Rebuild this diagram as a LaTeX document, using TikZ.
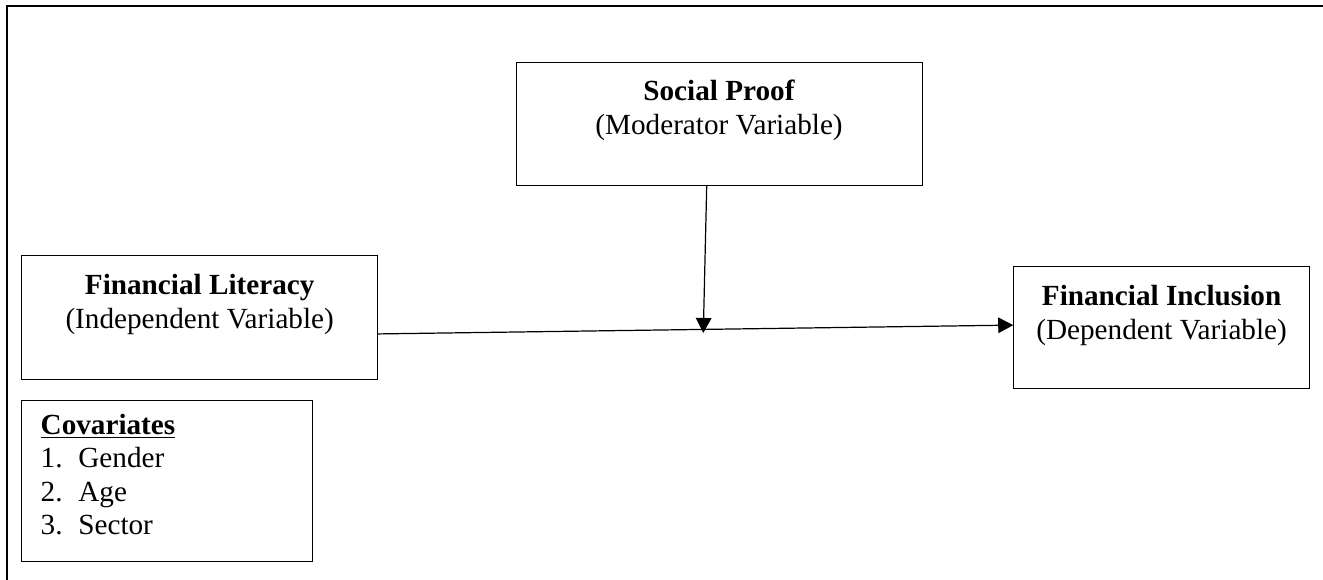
\documentclass[tikz,border=0pt]{standalone}
\usepackage{fontspec}
\setmainfont{Liberation Serif}
\usepackage{tikz}
\usetikzlibrary{arrows.meta, positioning, calc}

\begin{document}
\begin{tikzpicture}[
  x=0.411pt, y=-0.411pt,
  every node/.style={font=\fontsize{12}{13.8}\selectfont},
  varbox/.style={draw, inner sep=0pt, outer sep=0pt, anchor=north west},
  link/.style={-{Triangle[length=6.2pt, width=6.4pt]}, line width=0.5pt},
]
  \useasboundingbox (0,0) rectangle (1323,579);

  % Frame of the page (only left and top edges show)
  \draw[line width=0.75pt] (7,585) -- (7,6) -- (1330,6);

  % Variables
  \node[varbox] (proof) at (516,62)
      {\parbox[c][50.6pt][t]{166.9pt}{\centering\rule{0pt}{16pt}\textbf{Social Proof}\\(Moderator Variable)}};
  \node[varbox] (literacy) at (21.7,255.7)
      {\parbox[c][50.7pt][t]{146.3pt}{\centering\rule{0pt}{16pt}\textbf{Financial Literacy}\\(Independent Variable)}};
  \node[varbox] (inclusion) at (1013.3,266.7)
      {\parbox[c][50pt][t]{121.9pt}{\centering\rule{0pt}{16pt}\textbf{Financial Inclusion}\\(Dependent Variable)}};

  % Covariates
  \node[varbox] (covariates) at (21.7,400.7)
      {\parbox[c][66.2pt][t]{119.6pt}{\raggedright
        \rule{0pt}{13.7pt}\hspace*{7.8pt}\underline{\textbf{Covariates}}\\
        \hspace*{7.8pt}\makebox[15.5pt][l]{1.}Gender\\
        \hspace*{7.8pt}\makebox[15.5pt][l]{2.}Age\\
        \hspace*{7.8pt}\makebox[15.5pt][l]{3.}Sector}};

  % Paths
  \coordinate (moderate) at (703.3,333);
  \draw[link] ([yshift=-6.8pt]literacy.east) -- ([yshift=1pt]inclusion.west);
  \draw[link] ([xshift=-5.06pt]proof.south) -- (moderate);
\end{tikzpicture}
\end{document}
